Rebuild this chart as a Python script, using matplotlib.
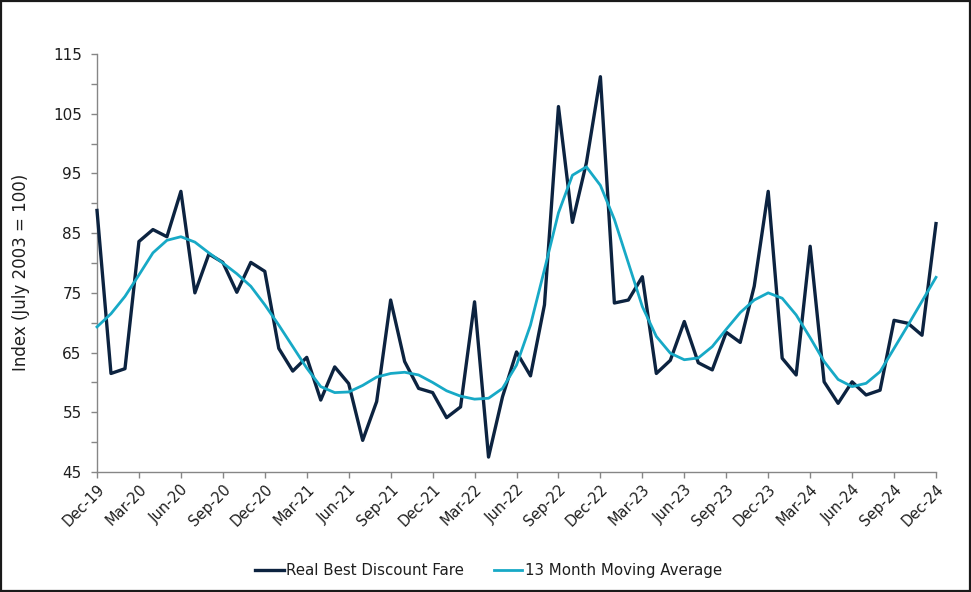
import matplotlib
matplotlib.use("Agg")
import matplotlib.pyplot as plt
from matplotlib.patches import Rectangle
from matplotlib.ticker import FixedLocator

tick_labels = ["Dec-19", "Mar-20", "Jun-20", "Sep-20", "Dec-20", "Mar-21", "Jun-21",
               "Sep-21", "Dec-21", "Mar-22", "Jun-22", "Sep-22", "Dec-22", "Mar-23",
               "Jun-23", "Sep-23", "Dec-23", "Mar-24", "Jun-24", "Sep-24", "Dec-24"]

y_ticks = [45, 55, 65, 75, 85, 95, 105, 115]
y_minor = [50, 60, 70, 80, 90, 100, 110]

fare = [88.8, 61.5, 62.3, 83.6, 85.6, 84.4, 92.0, 75.0, 81.5, 80.1,
        75.1, 80.1, 78.6, 65.7, 61.9, 64.2, 57.05, 62.6, 59.8, 50.3,
        56.8, 73.8, 63.5, 59.0, 58.3, 54.1, 55.9, 73.5, 47.5, 57.6,
        65.1, 61.1, 73.0, 106.2, 86.8, 96.8, 111.2, 73.3, 73.8, 77.7,
        61.5, 63.7, 70.2, 63.3, 62.1, 68.4, 66.7, 76.1, 92.0, 64.05,
        61.25, 82.8, 60.1, 56.5, 60.1, 57.9, 58.7, 70.4, 69.9, 67.9,
        86.6]

moving_avg = [69.3, 71.5, 74.4, 78.0, 81.7, 83.8, 84.4, 83.5, 81.7, 80.0,
              78.2, 76.1, 73.0, 69.6, 66.0, 62.4, 59.3, 58.3, 58.4, 59.5,
              60.9, 61.5, 61.7, 61.25, 60.0, 58.6, 57.7, 57.2, 57.35, 59.0,
              62.9, 69.6, 78.9, 88.4, 94.7, 96.1, 93.0, 87.3, 80.0, 72.7,
              67.7, 64.9, 63.8, 64.1, 66.0, 68.9, 71.7, 73.8, 75.0, 74.1,
              71.3, 67.5, 63.5, 60.5, 59.3, 59.85, 61.8, 65.7, 69.6, 73.6,
              77.6]

series_names = ["Real Best Discount Fare", "13 Month Moving Average"]
y_label = "Index (July 2003 = 100)"

dark = "#0c2340"
teal = "#17a9c6"
axis_gray = "#868686"
text_col = "#1e1e1e"

fig = plt.figure(figsize=(9.71, 5.92), dpi=100)
ax = fig.add_axes([97 / 971, 1 - 472 / 592, (936 - 97) / 971, (472 - 54) / 592])

x = list(range(len(fare)))
l1, = ax.plot(x, fare, color=dark, lw=2.4, clip_on=False, zorder=3)
l2, = ax.plot(x, moving_avg, color=teal, lw=2.0, clip_on=False, zorder=4)

ax.set_xlim(0, len(fare) - 1)
ax.set_ylim(45, 115)
ax.yaxis.set_major_locator(FixedLocator(y_ticks))
ax.yaxis.set_minor_locator(FixedLocator(y_minor))
ax.set_yticklabels([str(v) for v in y_ticks], fontsize=11, color=text_col)
ax.set_xticks(list(range(0, len(fare), 3)))
ax.set_xticklabels(tick_labels, rotation=45, ha="right", rotation_mode="anchor",
                   fontsize=10.5, color=text_col)

for s in ["top", "right"]:
    ax.spines[s].set_visible(False)
for s in ["left", "bottom"]:
    ax.spines[s].set_color(axis_gray)
    ax.spines[s].set_linewidth(1.0)

ax.tick_params(axis="both", which="both", direction="out", length=4, width=1.0,
               color=axis_gray)
ax.tick_params(axis="x", pad=3)
ax.tick_params(axis="y", pad=7)

fig.text(20.5 / 971, 1 - 272 / 592, y_label, rotation=90, ha="center", va="center",
         fontsize=12, color=text_col)

fig.legend([l1, l2], series_names, loc="center", bbox_to_anchor=(0.503, 0.036),
           ncol=2, frameon=False, fontsize=10.8, handlelength=1.9, columnspacing=2.0,
           handletextpad=0.15, labelcolor=text_col)

fig.patches.append(Rectangle((0.001, 0.0015), 0.998, 0.997, transform=fig.transFigure,
                             fill=False, edgecolor="#1a1a1a", lw=1.6))

fig.savefig("out.png", dpi=100)
